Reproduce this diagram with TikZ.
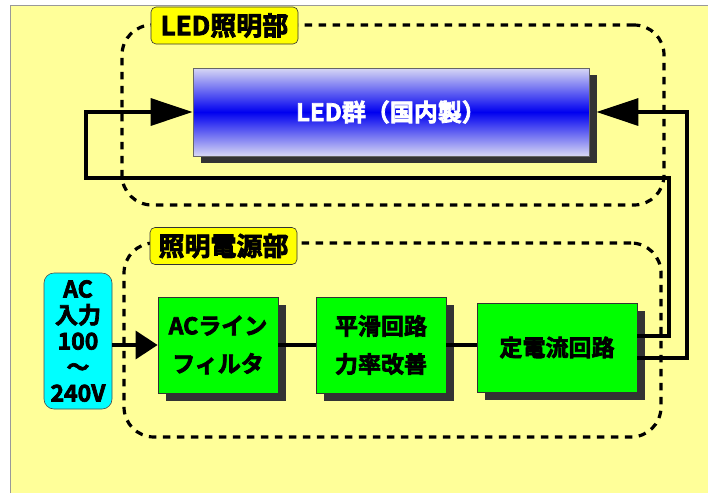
\documentclass[tikz,border=0pt]{standalone}
\usepackage{fontspec}
\setmainfont{Noto Sans CJK JP}[BoldFont={Noto Sans CJK JP Bold}, BoldFeatures={FakeBold=3}]
\usetikzlibrary{arrows.meta,shadows}
\definecolor{bgyellow}{HTML}{FFFF99}
\definecolor{lblyellow}{HTML}{FFFF00}
\definecolor{acCyan}{HTML}{00FFFF}
\definecolor{boxgreen}{HTML}{00FF00}
\definecolor{shadowgray}{HTML}{333333}
\definecolor{ledpale}{HTML}{D8D8F4}
\definecolor{ledblue}{HTML}{0000F0}
\tikzset{
  grp/.style={draw=black, line width=3.2pt, dash pattern=on 7.5pt off 6.5pt, rounded corners=30pt, inner sep=0pt},
  grplabel/.style={draw=black!80, line width=0.6pt, fill=lblyellow, rounded corners=5pt, inner sep=0pt,
    minimum width=147pt, minimum height=37pt, font=\fontsize{26}{30}\selectfont\bfseries},
  blk/.style={draw=black!80, line width=0.8pt, fill=boxgreen, inner sep=0pt, align=center,
    font=\fontsize{23}{38}\selectfont\bfseries,
    general shadow={fill=shadowgray, shadow xshift=8pt, shadow yshift=-8pt}},
  conn/.style={draw=black, line width=3.4pt},
  bigarrow/.style={-{Triangle[length=42pt,width=27pt]}},
  smallarrow/.style={-{Triangle[length=22pt,width=28pt]}}
}
\begin{document}
\begin{tikzpicture}[x=1pt,y=-1pt]
\useasboundingbox (0,0) rectangle (708,493);
\fill[white] (0,0) rectangle (708,493);
\fill[bgyellow] (10,5) rectangle (708,493);
\draw[black!40, line width=0.8pt] (10,493) -- (10,5) -- (708,5);

% groups
\node[grp, minimum width=542pt, minimum height=180pt] (ledgrp) at (393,115) {};
\node[grp, minimum width=537pt, minimum height=194pt] (pwrgrp) at (392.5,340) {};

% LED box
\node[draw=black!60, line width=0.8pt, top color=ledpale, bottom color=ledpale, middle color=ledblue,
  minimum width=396pt, minimum height=88pt, inner sep=0pt,
  general shadow={fill=shadowgray, shadow xshift=8pt, shadow yshift=-7pt},
  text=white, font=\fontsize{24}{28}\selectfont\bfseries] (led) at (391,112) {LED群（国内製）};

% AC input
\node[draw=black!70, line width=0.6pt, fill=acCyan, rounded corners=10pt, inner sep=0pt,
  minimum width=68pt, minimum height=136pt, align=center,
  font=\fontsize{23}{26}\selectfont\bfseries] (ac) at (78,341) {AC\\入力\\100\\～\\240V};

% blocks
\node[blk, minimum width=120pt, minimum height=96pt] (b1) at (218,345) {ACライン\\フィルタ};
\node[blk, minimum width=130pt, minimum height=96pt] (b2) at (381,345) {平滑回路\\力率改善};
\node[blk, minimum width=160pt, minimum height=89pt] (b3) at (557,347.5) {定電流回路};

% labels
\node[grplabel] (ledlbl) at (224.5,25.5) {LED照明部};
\node[grplabel] (pwrlbl) at (223.5,246) {照明電源部};

% connectors
\coordinate (c1) at (669,178);
\coordinate (c2) at (86,178);
\coordinate (c3) at (687,112);
\draw[conn, smallarrow] (ac.east |- b1.west) -- (b1.west);
\draw[conn] (b1.east) -- (b2.west);
\draw[conn] (b2.east) -- (b2.east -| b3.west);
\draw[conn, bigarrow] ([yshift=11.5pt]b3.east) -| (c1) -- (c2) |- (led.west);
\draw[conn, bigarrow] ([yshift=-10.5pt]b3.east) -| (c3) -- ([xshift=7pt]led.east);
\end{tikzpicture}
\end{document}
